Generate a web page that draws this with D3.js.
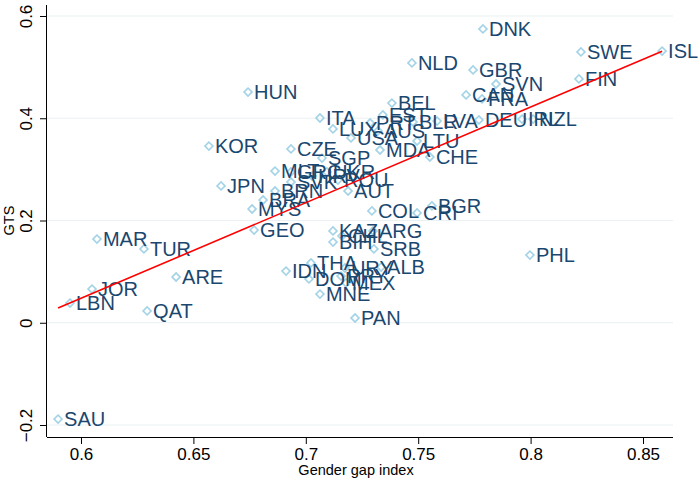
<!DOCTYPE html>
<meta charset="utf-8">
<div id="chart"></div>
<script src="https://d3js.org/d3.v7.min.js"></script>
<style type="text/css">
body { margin: 0; background: #fff; }
.grid { stroke: #eaf2f3; stroke-width: 1.2; }
.dot { fill: none; stroke: #a3d3e6; stroke-width: 1.6; }
.lab { fill: #1a476f; font-family: "Liberation Sans", Arial, sans-serif; font-size: 20px; }
.fit { fill: none; stroke: #ff0000; stroke-width: 1.6; }
.axis text { font-family: "Liberation Sans", Arial, sans-serif; font-size: 17px; fill: #000; }
.title { font-family: "Liberation Sans", Arial, sans-serif; font-size: 14.5px; fill: #000; }
</style>
<script>

// country codes, gender gap index, GTS
var codes = ["DNK","SWE","ISL","FIN","NLD","GBR","SVN","CAN","FRA","DEU","IRL","NZL",
  "LVA","BLR","BEL","EST","ITA","LUX","USA","PRT","AUS","LTU","MDA","CHE",
  "HUN","KOR","CZE","SGP","JPN","MLT","GRC","HRV","UKR","SVK","ROU","AUT",
  "BRN","BRA","MYS","GEO","COL","CRI","BGR","KAZ","CHL","ARG","BIH","SRB",
  "THA","IDN","DOM","URY","PRY","MEX","ALB","MNE","PAN","PHL",
  "MAR","TUR","ARE","JOR","LBN","QAT","SAU"];
var ggi = [0.7788,0.8224,0.8585,0.8215,0.7472,0.7744,0.7846,0.7713,0.7784,0.7770,0.7962,0.8011,
  0.7584,0.7477,0.7383,0.7343,0.7063,0.7121,0.7201,0.7286,0.7321,0.7495,0.7330,0.7552,
  0.6743,0.6569,0.6934,0.7072,0.6623,0.6863,0.6934,0.7028,0.7094,0.6934,0.7143,0.7188,
  0.6863,0.6810,0.6761,0.6770,0.7294,0.7495,0.7561,0.7121,0.7161,0.7299,0.7121,0.7303,
  0.7023,0.6912,0.7014,0.7174,0.7157,0.7179,0.7335,0.7063,0.7219,0.7997,
  0.6071,0.6280,0.6423,0.6049,0.5951,0.6294,0.5898];
var gts = [0.5746,0.5296,0.5315,0.4768,0.5081,0.4944,0.4670,0.4455,0.4377,0.3966,0.3985,0.3985,
  0.3946,0.3927,0.4298,0.4064,0.4005,0.3790,0.3614,0.3907,0.3751,0.3555,0.3379,0.3242,
  0.4513,0.3457,0.3399,0.3222,0.2675,0.2968,0.2949,0.2870,0.2949,0.2753,0.2792,0.2577,
  0.2577,0.2401,0.2225,0.1814,0.2186,0.2147,0.2284,0.1795,0.1697,0.1795,0.1579,0.1443,
  0.1169,0.1012,0.0856,0.1071,0.0914,0.0778,0.1090,0.0562,0.0093,0.1325,
  0.1638,0.1443,0.0895,0.0660,0.0386,0.0230,-0.1883];

// fitted line end points (lfit)
var fitX = [0.5898, 0.8585];
var fitY = [0.0287, 0.5312];

var xTicks = [0.6, 0.65, 0.7, 0.75, 0.8, 0.85];
var yTicks = [-0.2, 0, 0.2, 0.4, 0.6];

var W = 700, H = 482;
var plot = {left: 47, right: 673, top: 5, bottom: 437};

var svg = d3.select("#chart").append("svg").attr("width", W).attr("height", H);

var xScale = d3.scaleLinear().domain([0.6, 0.85]).range([81, 643]);
var yScale = d3.scaleLinear().domain([-0.2, 0.6]).range([425, 16]);

// gridlines
svg.selectAll(".grid")
    .data(yTicks)
  .enter().append("line")
    .attr("class", "grid")
    .attr("x1", plot.left).attr("x2", plot.right)
    .attr("y1", function(d) { return yScale(d); })
    .attr("y2", function(d) { return yScale(d); });

// axes
var xAxis = d3.axisBottom(xScale).tickValues(xTicks).tickSize(7).tickPadding(4)
    .tickFormat(function(d) { return String(d); });
var gx = svg.append("g").attr("class", "axis")
    .attr("transform", "translate(0," + plot.bottom + ")")
    .call(xAxis);
gx.select(".domain").attr("d", "M" + plot.left + ",0.5H" + plot.right);

var yAxis = d3.axisLeft(yScale).tickValues(yTicks).tickSize(7).tickPadding(0)
    .tickFormat(function(d) { return d < 0 ? "\u2212" + String(-d) : String(d); });
var gy = svg.append("g").attr("class", "axis")
    .attr("transform", "translate(" + plot.left + ",0)")
    .call(yAxis);
gy.select(".domain").attr("d", "M-0.5," + plot.top + "V" + plot.bottom);
gy.selectAll(".tick text")
    .attr("transform", "rotate(-90)")
    .attr("x", 0).attr("y", -15).attr("dy", 0)
    .attr("text-anchor", "middle");
svg.selectAll(".axis path, .axis line").attr("stroke", "#000");

svg.append("text").attr("class", "title")
    .attr("x", 356).attr("y", 475)
    .attr("text-anchor", "middle").text("Gender gap index");
svg.append("text").attr("class", "title")
    .attr("transform", "translate(14," + yScale(0.2) + ") rotate(-90)")
    .attr("text-anchor", "middle").attr("font-size", "13px").text("GTS");

var pts = codes.map(function(c, i) { return {code: c, x: ggi[i], y: gts[i]}; });

// markers
var diamond = d3.symbol().type(d3.symbolSquare).size(32);
svg.selectAll(".dot")
    .data(pts)
  .enter().append("path")
    .attr("class", "dot")
    .attr("d", diamond)
    .attr("transform", function(d) {
      return "translate(" + xScale(d.x) + "," + yScale(d.y) + ") rotate(45)";
    });

// labels
svg.selectAll(".lab")
    .data(pts)
  .enter().append("text")
    .attr("class", "lab")
    .attr("x", function(d) { return xScale(d.x) + 6; })
    .attr("y", function(d) { return yScale(d.y); })
    .attr("dy", "0.36em")
    .text(function(d) { return d.code; });

// fit line
var line = d3.line()
    .x(function(d) { return xScale(d[0]); })
    .y(function(d) { return yScale(d[1]); });
svg.append("path")
    .datum(d3.zip(fitX, fitY))
    .attr("class", "fit")
    .attr("d", line);
</script>
